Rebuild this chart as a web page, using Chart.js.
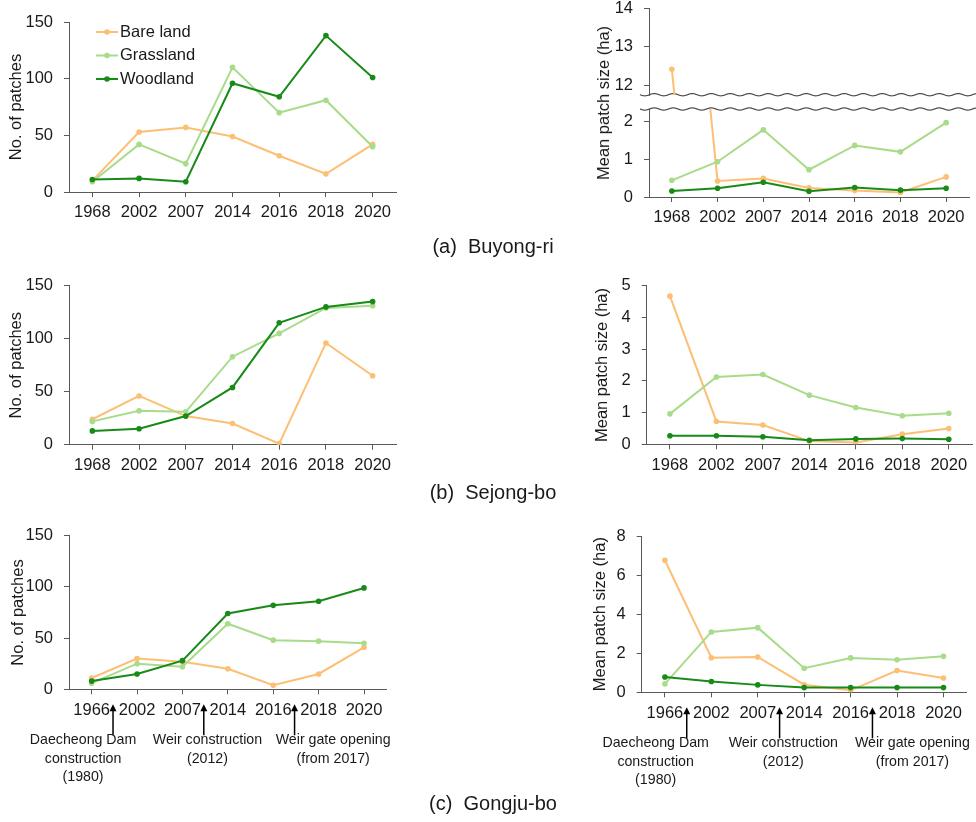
<!DOCTYPE html>
<html lang="en">
<head>
<meta charset="utf-8">
<title>Number of patches and mean patch size by land cover</title>
<script src="https://cdn.jsdelivr.net/npm/chart.js@4.4.1/dist/chart.umd.min.js"></script>
<style>
  html, body { margin: 0; padding: 0; background: #fff; }
  #figure { position: relative; width: 976px; height: 822px; overflow: hidden; background: #fff;
            font-family: 'Liberation Sans', Arial, Helvetica, sans-serif; color: #1a1a1a; }
  #figure canvas { position: absolute; }
  .caption { position: absolute; left: 343px; width: 300px; text-align: center;
             font-size: 20px; line-height: 24px; white-space: pre; }
  .ytitle { position: absolute; font-size: 16.5px; line-height: 20px; white-space: nowrap;
            transform: translate(-50%, -50%) rotate(-90deg); }
</style>
</head>
<body>
<div id="figure">
  <canvas id="buyongCount" width="400" height="230" style="left:0;top:0"></canvas>
  <canvas id="buyongSizeLower" width="396" height="155" style="left:580px;top:80px"></canvas>
  <canvas id="buyongSizeUpper" width="396" height="147" style="left:580px;top:-30px"></canvas>
  <div class="ytitle" style="left:603px;top:102.5px">Mean patch size (ha)</div>
  <div class="caption" style="top:234px">(a)  Buyong-ri</div>

  <canvas id="sejongCount" width="400" height="232" style="left:0;top:250px"></canvas>
  <canvas id="sejongSize" width="396" height="232" style="left:580px;top:250px"></canvas>
  <div class="caption" style="top:480px">(b)  Sejong-bo</div>

  <canvas id="gongjuCount" width="400" height="300" style="left:0;top:500px"></canvas>
  <canvas id="gongjuSize" width="396" height="300" style="left:580px;top:500px"></canvas>
  <div class="caption" style="top:791px">(c)  Gongju-bo</div>
</div>

<script>
// ---- data ----------------------------------------------------------------
const years = ['1968', '2002', '2007', '2014', '2016', '2018', '2020'];
const yearsGongju = ['1966', '2002', '2007', '2014', '2016', '2018', '2020'];
const seriesNames = ['Bare land', 'Grassland', 'Woodland'];

// (a) Buyong-ri
const buyongBareCount  = [10, 53, 57, 49, 32, 16, 42];
const buyongGrassCount = [9, 42, 25, 110, 70, 81, 40];
const buyongWoodCount  = [11, 12, 9, 96, 84, 138, 101];
const buyongBareSize   = [12.41, 0.42, 0.49, 0.24, 0.17, 0.12, 0.53];
const buyongGrassSize  = [0.44, 0.93, 1.77, 0.72, 1.36, 1.19, 1.96];
const buyongWoodSize   = [0.16, 0.23, 0.39, 0.15, 0.25, 0.18, 0.23];

// (b) Sejong-bo
const sejongBareCount  = [24, 46, 27, 20, 1, 96, 65];
const sejongGrassCount = [22, 32, 31, 83, 105, 129, 131];
const sejongWoodCount  = [13, 15, 27, 54, 115, 130, 135];
const sejongBareSize   = [4.67, 0.72, 0.61, 0.10, 0.06, 0.32, 0.50];
const sejongGrassSize  = [0.96, 2.12, 2.20, 1.55, 1.16, 0.90, 0.98];
const sejongWoodSize   = [0.27, 0.27, 0.24, 0.13, 0.17, 0.18, 0.16];

// (c) Gongju-bo
const gongjuBareCount  = [11, 30, 27, 20, 4, 15, 41];
const gongjuGrassCount = [6, 25, 22, 64, 48, 47, 45];
const gongjuWoodCount  = [8, 15, 28, 74, 82, 86, 99];
const gongjuBareSize   = [6.76, 1.77, 1.81, 0.39, 0.10, 1.11, 0.73];
const gongjuGrassSize  = [0.43, 3.09, 3.31, 1.23, 1.76, 1.66, 1.84];
const gongjuWoodSize   = [0.78, 0.55, 0.38, 0.24, 0.24, 0.24, 0.24];

// river events, each placed between two survey years (index of the earlier year)
const eventAfterIndex = [0, 2, 4];
const eventLabels = [
  ['Daecheong Dam', 'construction', '(1980)'],
  ['Weir construction', '(2012)'],
  ['Weir gate opening', '(from 2017)']
];

// ---- styling ---------------------------------------------------------------
const FONT = "'Liberation Sans', Arial, Helvetica, sans-serif";
const INK = '#1a1a1a';
const AXIS = '#595959';
const SERIES_COLORS = ['#fdbf74', '#a8db8a', '#178a17'];
const DRAW_ORDER = [3, 2, 1];          // woodland drawn on top

Chart.defaults.font.family = FONT;
Chart.defaults.font.size = 16.5;
Chart.defaults.color = INK;
Chart.defaults.animation = false;
Chart.defaults.events = [];
Chart.defaults.plugins.legend.display = false;
Chart.defaults.plugins.tooltip.enabled = false;

function seriesDataset(i, values) {
  const c = SERIES_COLORS[i];
  return {
    label: seriesNames[i], data: values, order: DRAW_ORDER[i],
    borderColor: c, backgroundColor: c, pointBackgroundColor: c, pointBorderColor: c,
    borderWidth: 2, pointRadius: 2.8, pointBorderWidth: 0, tension: 0
  };
}

const axisGrid = { display: true, drawOnChartArea: false, drawTicks: true, tickLength: 5, color: AXIS, lineWidth: 1 };
const axisBorder = { display: true, color: AXIS, width: 1 };

// legend drawn inside the plot area, line + marker + name
const seriesKey = {
  id: 'seriesKey',
  afterDatasetsDraw(chart) {
    const { ctx, chartArea } = chart;
    ctx.save();
    chart.data.datasets.forEach((ds, i) => {
      const y = chartArea.top + 10 + i * 23.5;
      const x0 = chartArea.left + 27, x1 = x0 + 22;
      ctx.strokeStyle = ds.borderColor;
      ctx.lineWidth = 2;
      ctx.beginPath(); ctx.moveTo(x0, y); ctx.lineTo(x1, y); ctx.stroke();
      ctx.fillStyle = ds.borderColor;
      ctx.beginPath(); ctx.arc((x0 + x1) / 2, y, 2.8, 0, Math.PI * 2); ctx.fill();
      ctx.fillStyle = INK;
      ctx.font = '16.5px ' + FONT;
      ctx.textAlign = 'left';
      ctx.textBaseline = 'middle';
      ctx.fillText(ds.label, x1 + 2, y);
    });
    ctx.restore();
  }
};

// wavy break marks for the split value axis
const axisBreak = {
  id: 'axisBreak',
  afterDraw(chart) {
    const { ctx, chartArea } = chart;
    const x0 = chartArea.left - 9, x1 = chart.width;
    ctx.save();
    ctx.strokeStyle = '#4d4d4d';
    ctx.lineWidth = 1.2;
    [chartArea.top - 14.3, chartArea.top].forEach(y => {
      ctx.beginPath();
      for (let x = x0; x <= x1; x += 0.5) {
        const yy = y + 1.1 * Math.sin((x - x0) / 19 * 2 * Math.PI);
        if (x === x0) ctx.moveTo(x, yy); else ctx.lineTo(x, yy);
      }
      ctx.stroke();
    });
    ctx.restore();
  }
};

// event arrows and notes under the year axis
const eventNotes = {
  id: 'eventNotes',
  afterDraw(chart, args, opts) {
    const { ctx } = chart;
    const xs = chart.scales.x;
    const p0 = xs.getPixelForValue(0);
    const step = xs.getPixelForValue(1) - p0;
    const at = v => p0 + v * step;
    const base = xs.top;
    ctx.save();
    eventAfterIndex.forEach((idx, k) => {
      const ax = at(idx + 0.47);
      ctx.strokeStyle = '#000';
      ctx.fillStyle = '#000';
      ctx.lineWidth = 1.5;
      ctx.beginPath(); ctx.moveTo(ax, base + 46); ctx.lineTo(ax, base + 20); ctx.stroke();
      ctx.beginPath();
      ctx.moveTo(ax, base + 15);
      ctx.lineTo(ax - 3.5, base + 22);
      ctx.lineTo(ax + 3.5, base + 22);
      ctx.closePath(); ctx.fill();
      ctx.fillStyle = INK;
      ctx.font = '14.2px ' + FONT;
      ctx.textAlign = 'center';
      ctx.textBaseline = 'middle';
      const cx = at(opts.textAt[k]);
      eventLabels[k].forEach((t, j) => ctx.fillText(t, cx, base + 51 + j * 18.3));
    });
    ctx.restore();
  }
};

function buildChart(id, cfg) {
  const showX = cfg.showX !== false;
  return new Chart(document.getElementById(id), {
    type: 'line',
    data: {
      labels: cfg.labels,
      datasets: cfg.values.map((v, i) => seriesDataset(i, v))
    },
    options: {
      responsive: false,
      layout: { padding: cfg.pad },
      scales: {
        x: {
          type: 'category', offset: true, display: showX,
          grid: axisGrid, border: axisBorder,
          ticks: { padding: 6, maxRotation: 0, autoSkip: false },
          afterFit: s => { s.height = showX ? 36 : 0; }
        },
        y: {
          type: 'linear', min: cfg.min, max: cfg.max,
          grid: axisGrid, border: axisBorder,
          ticks: { stepSize: cfg.step, padding: 11, includeBounds: false },
          title: cfg.title
            ? { display: true, text: cfg.title, color: INK, font: { size: 16.5 }, padding: { top: cfg.titlePad, bottom: 0 } }
            : { display: false },
          afterFit: s => { s.width = cfg.yWidth; }
        }
      },
      plugins: cfg.pluginOpts || {}
    },
    plugins: cfg.plugins || []
  });
}

// (a) Buyong-ri: value axis split into an upper (11.7-14 ha) and a lower (0-2.3 ha) part
buildChart('buyongCount', {
  labels: years, values: [buyongBareCount, buyongGrassCount, buyongWoodCount],
  min: 0, max: 150, step: 50, yWidth: 69, title: 'No. of patches', titlePad: 6.1,
  pad: { left: 0, top: 22, right: 3, bottom: 2 }, plugins: [seriesKey]
});
buildChart('buyongSizeLower', {
  labels: years, values: [buyongBareSize, buyongGrassSize, buyongWoodSize],
  min: 0, max: 2.32, step: 1, yWidth: 69,
  pad: { left: 0, top: 29, right: 7, bottom: 2 }, plugins: [axisBreak]
});
buildChart('buyongSizeUpper', {
  labels: years, values: [buyongBareSize, buyongGrassSize, buyongWoodSize],
  min: 11.74, max: 14, step: 1, yWidth: 69, showX: false,
  pad: { left: 0, top: 38.3, right: 7, bottom: 22 }
});

// (b) Sejong-bo
buildChart('sejongCount', {
  labels: years, values: [sejongBareCount, sejongGrassCount, sejongWoodCount],
  min: 0, max: 150, step: 50, yWidth: 69, title: 'No. of patches', titlePad: 6.1,
  pad: { left: 0, top: 35.7, right: 3.3, bottom: 1.3 }
});
buildChart('sejongSize', {
  labels: years, values: [sejongBareSize, sejongGrassSize, sejongWoodSize],
  min: 0, max: 5, step: 1, yWidth: 66.7, title: 'Mean patch size (ha)', titlePad: 12.6,
  pad: { left: 0, top: 35.7, right: 1, bottom: 1.7 }
});

// (c) Gongju-bo
buildChart('gongjuCount', {
  labels: yearsGongju, values: [gongjuBareCount, gongjuGrassCount, gongjuWoodCount],
  min: 0, max: 150, step: 50, yWidth: 69, title: 'No. of patches', titlePad: 8.4,
  pad: { left: 0, top: 35.7, right: 13.3, bottom: 74.7 },
  plugins: [eventNotes], pluginOpts: { eventNotes: { textAt: [-0.19, 2.55, 5.32] } }
});
buildChart('gongjuSize', {
  labels: yearsGongju, values: [gongjuBareSize, gongjuGrassSize, gongjuWoodSize],
  min: 0, max: 8, step: 2, yWidth: 61.7, title: 'Mean patch size (ha)', titlePad: 10.9,
  pad: { left: 0, top: 36, right: 9.3, bottom: 71.7 },
  plugins: [eventNotes], pluginOpts: { eventNotes: { textAt: [-0.2, 2.55, 5.33] } }
});
</script>
</body>
</html>
